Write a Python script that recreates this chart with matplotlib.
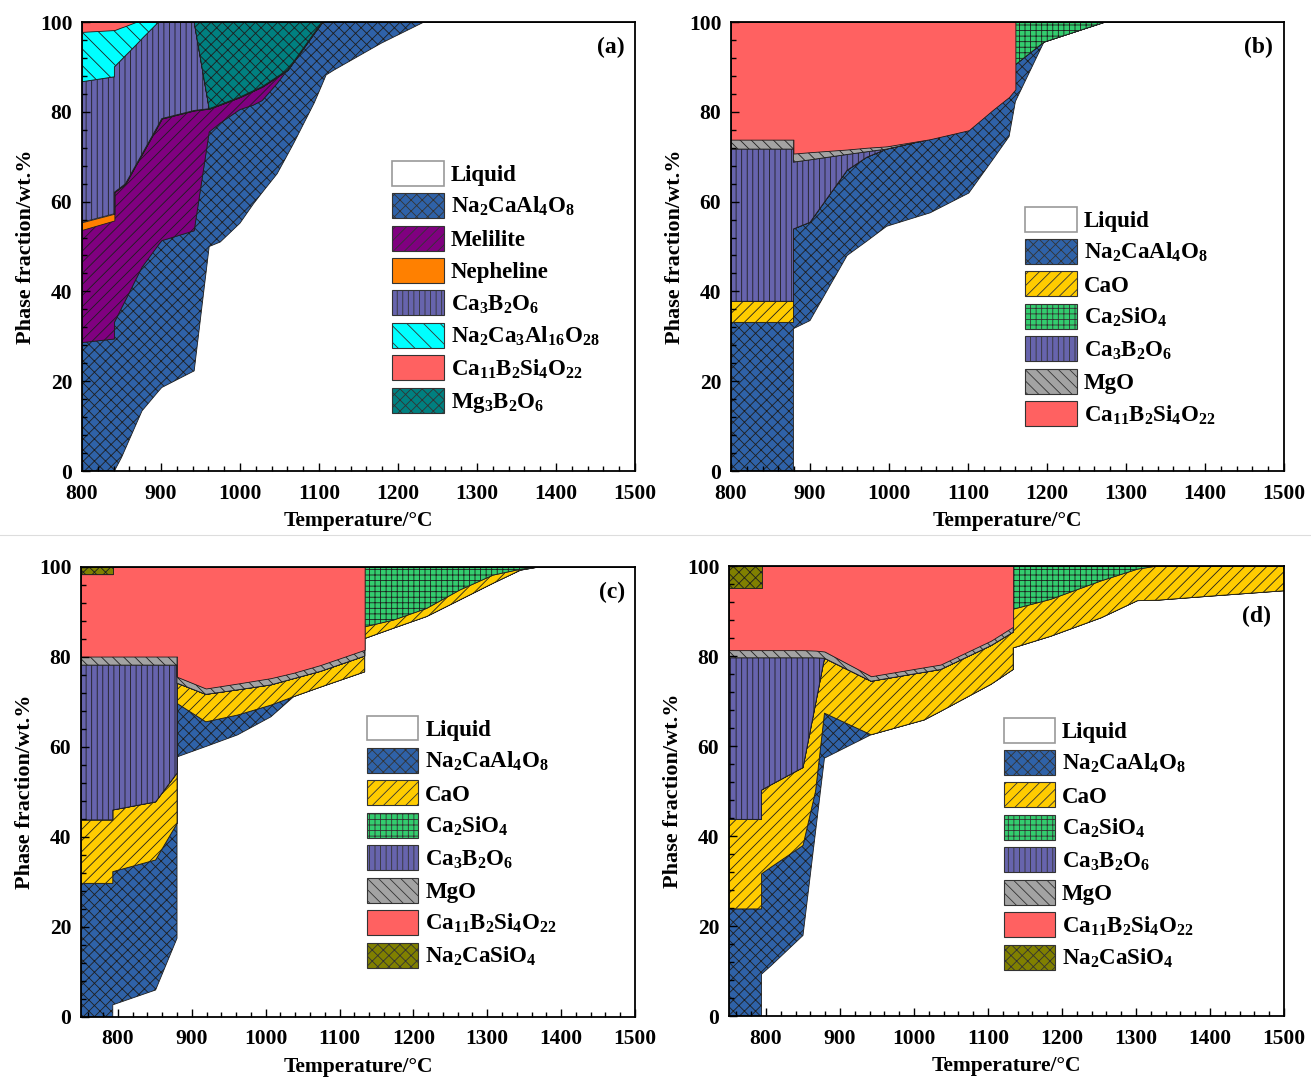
import numpy as np
import matplotlib.pyplot as plt
from matplotlib.patches import Patch
from matplotlib.lines import Line2D
from matplotlib.ticker import MultipleLocator

plt.rcParams['font.family'] = 'Liberation Serif'
plt.rcParams['font.weight'] = 'bold'
plt.rcParams['axes.labelweight'] = 'bold'
plt.rcParams['mathtext.fontset'] = 'custom'
plt.rcParams['mathtext.rm'] = 'Liberation Serif:bold'
plt.rcParams['mathtext.it'] = 'Liberation Serif:bold'
plt.rcParams['mathtext.bf'] = 'Liberation Serif:bold'
plt.rcParams['hatch.linewidth'] = 0.6
plt.rcParams['hatch.color'] = '#1e1e1e'

# ---- (a) phase fractions, wt.%
temp_a = [800, 841, 841, 850, 855, 868, 876, 897, 901, 942, 961, 975, 1000,
          1017, 1028, 1047, 1060, 1068, 1094, 1104, 1109, 1119, 1179, 1233, 1500]
liquid_a = [0, 0, 0, 3.0, 5.0, 10.2, 13.4, 17.8, 18.6, 22.3, 50.0, 51.0, 55.2,
            59.5, 62.0, 66.2, 70.4, 73.0, 82.0, 86.1, 88.2, 89.3, 95.3, 100, 100]
na2caal4o8_a = [28.6, 29.4, 33.1, 33.3, 33.0, 32.4, 32.0, 32.6, 32.7, 31.2, 25.5, 26.5, 25.3,
                22.0, 20.5, 20.1, 18.9, 18.2, 15.6, 13.9, 11.8, 10.7, 4.7, 0, 0]
melilite_a = [25.1, 26.4, 29.0, 27.0, 26.0, 25.5, 25.2, 26.8, 27.2, 26.8, 5.2, 4.1, 2.8,
              3.2, 3.1, 1.5, 0, 0, 0, 0, 0, 0, 0, 0, 0]
nepheline_a = [1.7, 1.5] + [0] * 23
ca3b2o6_a = [31.3, 30.5, 27.9, 28.3, 28.5, 26.7, 25.7, 22.8, 21.5, 19.7] + [0] * 15
na2ca3al16o28_a = [11.1, 10.4, 8.2, 7.2, 6.6, 5.2, 3.7] + [0] * 18
ca11b2si4o22_a = [2.2, 1.8, 1.8, 1.2, 0.9] + [0] * 20
mg3b2o6_a = [0] * 10 + [19.3, 18.4, 16.7, 15.3, 14.4, 12.2, 10.7, 8.8, 2.4] + [0] * 6

# ---- (b)
temp_b = [800, 879, 879, 900, 947, 972, 997, 1052, 1101, 1132, 1152, 1160, 1160, 1196, 1274, 1500]
liquid_b = [0, 0, 31.7, 33.5, 48.0, 51.2, 54.5, 57.5, 61.9, 69.5, 74.5, 82.3, 82.3, 95.5, 100, 100]
na2caal4o8_b = [33.1, 33.1, 22.2, 21.9, 19.0, 18.7, 17.2, 16.4, 14.0, 11.0, 8.8, 2.7, 8.2, 0, 0, 0]
cao_b = [4.7, 4.7] + [0] * 14
ca2sio4_b = [0] * 12 + [9.5, 4.5, 0, 0]
ca3b2o6_b = [33.9, 33.9, 14.9, 13.9, 3.5, 1.2] + [0] * 10
mgo_b = [2.1, 2.1, 1.9, 1.7, 1.1, 0.9, 0.6] + [0] * 9
ca11b2si4o22_b = [26.2, 26.2, 29.3, 29.0, 28.4, 28.0, 27.7, 26.1, 24.1, 19.5, 16.7, 15.0, 0, 0, 0, 0]

# ---- (c)
temp_c = [750, 793, 793, 851, 880, 880, 919, 962, 1007, 1038, 1074, 1134, 1134,
          1173, 1218, 1263, 1308, 1345, 1370, 1500]
liquid_c = [0, 0, 2.7, 6.0, 17.5, 57.8, 60.1, 62.7, 66.7, 71.2, 73.3, 76.7, 84.1,
            86.4, 89.0, 92.7, 96.4, 99.3, 100, 100]
na2caal4o8_c = [29.7, 29.7, 29.6, 28.9, 25.5, 11.9, 5.5, 4.4, 2.6] + [0] * 11
cao_c = [14.1, 14.1, 13.7, 12.9, 11.2, 4.5, 6.1, 5.6, 4.5, 4.0, 3.5, 3.5, 2.6,
         1.8, 1.8, 2.2, 1.8, 0.2, 0, 0]
ca2sio4_c = [0] * 12 + [13.3, 11.8, 9.2, 5.1, 1.8, 0.5, 0, 0]
ca3b2o6_c = [34.4, 34.4, 32.2, 30.4, 24.0] + [0] * 15
mgo_c = [1.9, 1.9, 1.9, 1.9, 1.9, 1.4, 1.3, 1.4, 1.5, 1.3, 1.4, 1.4] + [0] * 8
ca11b2si4o22_c = [18.3, 18.3, 19.9, 19.9, 19.9, 24.4, 27.0, 25.9, 24.7, 23.5, 21.8, 18.4] + [0] * 8
na2casio4_c = [1.6, 1.6] + [0] * 18

# ---- (d)
temp_d = [750, 794, 794, 807, 850, 867, 879, 942, 1014, 1036, 1104, 1134, 1134,
          1185, 1253, 1302, 1329, 1400, 1500]
liquid_d = [0, 0, 9.3, 11.2, 17.9, 41.0, 57.3, 62.5, 65.8, 67.7, 73.7, 77.0, 81.8,
            84.4, 88.5, 92.3, 92.4, 93.3, 94.5]
na2caal4o8_d = [23.8, 23.8, 22.3, 21.9, 20.0, 9.0, 10.0] + [0] * 12
cao_d = [19.9, 19.9, 18.6, 18.3, 17.3, 19.4, 12.2, 11.9, 10.6, 9.3, 8.6, 8.3, 8.6,
         8.2, 8.2, 7.0, 7.6, 6.7, 5.5]
ca2sio4_d = [0] * 12 + [9.6, 7.4, 3.3, 0.7, 0, 0, 0]
ca3b2o6_d = [35.9, 35.9, 29.4, 28.2, 24.4, 10.2] + [0] * 13
mgo_d = [1.7, 1.7, 1.7, 1.7, 1.7, 1.6, 1.5, 1.1, 1.1, 1.1, 1.1, 1.2] + [0] * 7
ca11b2si4o22_d = [13.9, 13.9, 18.7, 18.7, 18.7, 18.8, 19.0, 24.5, 22.5, 21.9, 16.6, 13.5] + [0] * 7
na2casio4_d = [4.8, 4.8] + [0] * 17

# name -> (legend label, face colour, hatch)
STYLE = {
    'liquid': ('Liquid', 'white', None),
    'na2caal4o8': (r'Na$_2$CaAl$_4$O$_8$', '#2f62a8', 'xxx'),
    'melilite': ('Melilite', '#800080', '///'),
    'nepheline': ('Nepheline', '#ff8000', None),
    'ca3b2o6': (r'Ca$_3$B$_2$O$_6$', '#6764ad', '|||'),
    'na2ca3al16o28': (r'Na$_2$Ca$_3$Al$_{16}$O$_{28}$', '#00ffff', '\\\\'),
    'ca11b2si4o22': (r'Ca$_{11}$B$_2$Si$_4$O$_{22}$', '#ff6161', None),
    'mg3b2o6': (r'Mg$_3$B$_2$O$_6$', '#008080', 'xxx'),
    'cao': ('CaO', '#ffcc00', '///'),
    'ca2sio4': (r'Ca$_2$SiO$_4$', '#33cc6e', '+++'),
    'mgo': ('MgO', '#a3a3a3', '\\\\\\'),
    'na2casio4': (r'Na$_2$CaSiO$_4$', '#808000', 'xxx'),
}
EDGE = '#1e1e1e'


def draw_panel(rect, temp, layers, xmin, tag, tag_xy, leg_xy):
    ax = fig.add_axes(rect)
    base = np.zeros(len(temp))
    handles = []
    for name, frac in layers:
        label, fc, hatch = STYLE[name]
        top = base + np.asarray(frac, dtype=float)
        if name == 'liquid':
            ax.fill_between(temp, base, top, facecolor=fc, edgecolor='none', linewidth=0)
            handles.append(Patch(facecolor=fc, edgecolor='#999999', linewidth=1.2, label=label))
        else:
            ax.fill_between(temp, base, top, facecolor=fc, hatch=hatch,
                            edgecolor=EDGE, linewidth=0.6)
            handles.append(Patch(facecolor=fc, hatch=hatch, edgecolor='#333333',
                                 linewidth=0.8, label=label))
        base = top

    ax.set_xlim(xmin, 1500)
    ax.set_ylim(0, 100)
    ax.xaxis.set_major_locator(MultipleLocator(100))
    ax.xaxis.set_minor_locator(MultipleLocator(20))
    ax.yaxis.set_major_locator(MultipleLocator(20))
    ax.yaxis.set_minor_locator(MultipleLocator(4))
    ax.tick_params(which='both', direction='in', top=False, right=False,
                   labelsize=15.5, width=1.0)
    ax.tick_params(which='major', length=6, pad=7)
    ax.tick_params(axis='x', which='major', pad=9)
    ax.tick_params(which='minor', length=3.5)
    for sp in ax.spines.values():
        sp.set_linewidth(1.3)
    ax.set_xlabel('Temperature/°C', fontsize=15.5)
    ax.set_ylabel('Phase fraction/wt.%', fontsize=16)
    ax.xaxis.set_label_coords(0.5, -0.088)
    ax.yaxis.set_label_coords(-0.083, 0.5)
    ax.text(tag_xy[0], tag_xy[1], tag, transform=ax.transAxes, fontsize=17,
            ha='center', va='center')
    ax.legend(handles=handles, loc='upper left', bbox_to_anchor=leg_xy,
              frameon=False, fontsize=16.5, borderpad=0, borderaxespad=0,
              handlelength=2.25, handleheight=1.3, handletextpad=0.3,
              labelspacing=0.31)
    return ax


W, H = 1311, 1077
fig = plt.figure(figsize=(W / 100, H / 100), dpi=100)


def px_rect(left, right, top, bottom):
    return [left / W, 1 - bottom / H, (right - left) / W, (bottom - top) / H]


draw_panel(px_rect(82, 635, 22, 471), temp_a,
           [('liquid', liquid_a), ('na2caal4o8', na2caal4o8_a), ('melilite', melilite_a),
            ('nepheline', nepheline_a), ('ca3b2o6', ca3b2o6_a),
            ('na2ca3al16o28', na2ca3al16o28_a), ('ca11b2si4o22', ca11b2si4o22_a),
            ('mg3b2o6', mg3b2o6_a)],
           800, '(a)', (0.957, 0.944), (0.561, 0.691))

draw_panel(px_rect(731, 1284, 22, 471), temp_b,
           [('liquid', liquid_b), ('na2caal4o8', na2caal4o8_b), ('cao', cao_b),
            ('ca2sio4', ca2sio4_b), ('ca3b2o6', ca3b2o6_b), ('mgo', mgo_b),
            ('ca11b2si4o22', ca11b2si4o22_b)],
           800, '(b)', (0.954, 0.944), (0.532, 0.589))

draw_panel(px_rect(81, 635, 567, 1017), temp_c,
           [('liquid', liquid_c), ('na2caal4o8', na2caal4o8_c), ('cao', cao_c),
            ('ca2sio4', ca2sio4_c), ('ca3b2o6', ca3b2o6_c), ('mgo', mgo_c),
            ('ca11b2si4o22', ca11b2si4o22_c), ('na2casio4', na2casio4_c)],
           750, '(c)', (0.958, 0.944), (0.516, 0.670))

draw_panel(px_rect(729, 1284, 566, 1016), temp_d,
           [('liquid', liquid_d), ('na2caal4o8', na2caal4o8_d), ('cao', cao_d),
            ('ca2sio4', ca2sio4_d), ('ca3b2o6', ca3b2o6_d), ('mgo', mgo_d),
            ('ca11b2si4o22', ca11b2si4o22_d), ('na2casio4', na2casio4_d)],
           750, '(d)', (0.951, 0.888), (0.495, 0.663))

# thin divider between the upper and lower rows
fig.add_artist(Line2D([0, 1], [1 - 535 / H] * 2, transform=fig.transFigure,
                      color='#dddddd', linewidth=0.8))

fig.savefig('out.png', dpi=100)
